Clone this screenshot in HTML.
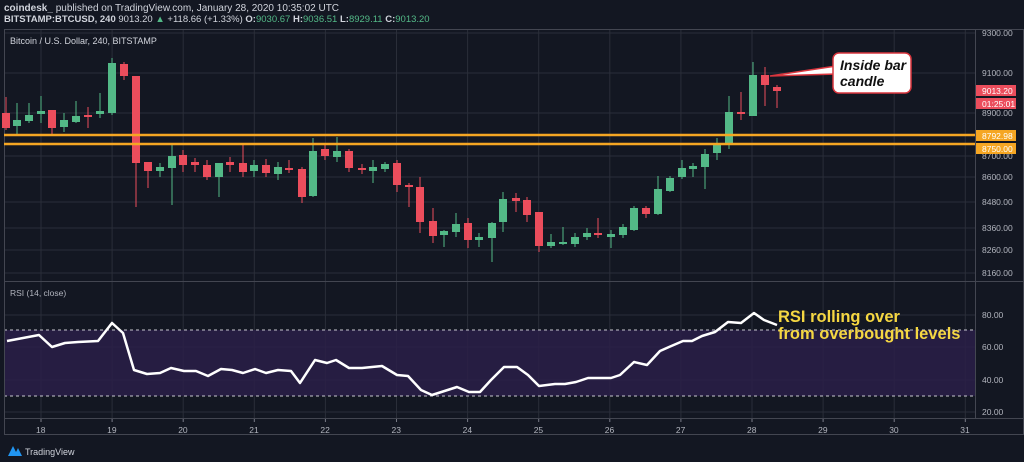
<!DOCTYPE html>
<html><head><meta charset="utf-8"><style>
html,body{margin:0;padding:0;background:#131722;width:1024px;height:462px;overflow:hidden}
svg{display:block;font-family:"Liberation Sans",sans-serif}
</style></head><body>
<svg id="s" width="1024" height="462" viewBox="0 0 1024 462" xmlns="http://www.w3.org/2000/svg">
<rect width="1024" height="462" fill="#131722"/>
<text x="4" y="11" font-size="10" fill="#d1d4dc"><tspan font-weight="bold">coindesk_</tspan> published on TradingView.com, January 28, 2020 10:35:02 UTC</text>
<text x="4" y="22" font-size="9.5" fill="#d1d4dc"><tspan font-weight="bold">BITSTAMP:BTCUSD, 240</tspan> 9013.20 <tspan fill="#53b987">▲</tspan> +118.66 (+1.33%) <tspan font-weight="bold">O:</tspan><tspan fill="#53b987">9030.67</tspan> <tspan font-weight="bold">H:</tspan><tspan fill="#53b987">9036.51</tspan> <tspan font-weight="bold">L:</tspan><tspan fill="#53b987">8929.11</tspan> <tspan font-weight="bold">C:</tspan><tspan fill="#53b987">9013.20</tspan></text>
<g id="grid" stroke="#2a2e39" stroke-width="1"></g>
<rect x="4" y="330" width="971" height="66" fill="#2a1f48" opacity="0.85"/>
<line x1="4" y1="330" x2="975" y2="330" stroke="#c8c8d0" stroke-dasharray="3,3"/>
<line x1="4" y1="396" x2="975" y2="396" stroke="#c8c8d0" stroke-dasharray="3,3"/>
<g stroke="#434651" fill="none">
<rect x="4.5" y="29.5" width="1019" height="405"/>
<line x1="975.5" y1="29" x2="975.5" y2="418"/>
<line x1="4" y1="281.5" x2="1024" y2="281.5"/>
<line x1="4" y1="418.5" x2="1024" y2="418.5"/>
</g>
<text x="10" y="44" font-size="9" fill="#d1d4dc">Bitcoin / U.S. Dollar, 240, BITSTAMP</text>
<text x="10" y="296" font-size="8.5" fill="#b2b5be">RSI (14, close)</text>
<g id="c"></g>
<line x1="4" y1="135" x2="975" y2="135" stroke="#f5a623" stroke-width="2.5"/>
<line x1="4" y1="144" x2="975" y2="144" stroke="#f5a623" stroke-width="2.5"/>
<polyline fill="none" stroke="#ffffff" stroke-width="2.5" stroke-linejoin="round" points="7,341 39,335 52,347 65,343 78,342 98,341 112,323 123,333 134,370 147,374 160,373 171,368 184,371 196,371 208,376 221,369 232,370 243,373 255,369 266,373 278,370 291,371 300,383 315,360 327,363 336,360 349,368 362,368 382,366 397,375 408,376 421,390 432,395 457,387 469,392 480,392 491,380 504,367 517,367 528,375 539,386 555,384 565,384 576,382 588,378 598,378 611,378 620,375 634,362 647,365 660,351 669,347 683,341 692,341 702,336 715,332 728,322 741,323 754,313 764,320 777,325"/>
<text font-size="16.5" font-weight="bold" fill="#f5d742"><tspan x="778" y="322">RSI rolling over</tspan><tspan x="778" y="339">from overbought levels</tspan></text>
<polygon points="770,76 836,66 836,74" fill="#ffffff" stroke="#d9363e" stroke-width="1.5"/>
<rect x="833" y="53" width="78" height="40" rx="6" fill="#ffffff" stroke="#d9363e" stroke-width="1.5"/>
<text font-size="14" font-style="italic" font-weight="bold" fill="#111"><tspan x="840" y="70">Inside bar</tspan><tspan x="840" y="86">candle</tspan></text>
<g font-size="8.5" fill="#b2b5be" id="ax"></g>
<rect x="976" y="85" width="40" height="11" fill="#eb4d5c"/>
<text x="982" y="94" font-size="8.5" fill="#fff">9013.20</text>
<rect x="976" y="98" width="40" height="11" fill="#eb4d5c"/>
<text x="982" y="107" font-size="8.5" fill="#fff">01:25:01</text>
<rect x="976" y="130" width="40" height="11" fill="#f5a623"/>
<text x="982" y="139" font-size="8.5" fill="#fff">8792.98</text>
<rect x="976" y="143" width="40" height="11" fill="#f5a623"/>
<text x="982" y="152" font-size="8.5" fill="#fff">8750.00</text>
<path d="M8,456 L13,446 L18,456 Z M14,456 L18,448 L22,456 Z" fill="#2196f3"/>
<text x="25" y="455" font-size="9" fill="#d1d4dc">TradingView</text>
</svg>
<script>
var NS="http://www.w3.org/2000/svg";
function el(p,t,a,txt){var e=document.createElementNS(NS,t);for(var k in a)e.setAttribute(k,a[k]);if(txt)e.textContent=txt;document.getElementById(p).appendChild(e);}
var days=[18,19,20,21,22,23,24,25,26,27,28,29,30,31];
days.forEach(function(d,i){var x=41+i*71.1;el("grid","line",{x1:x,y1:30,x2:x,y2:418});el("ax","text",{x:x-5,y:433},String(d));el("grid","line",{x1:x,y1:418,x2:x,y2:422,stroke:"#787b86"});});
[[33,"9300.00"],[73,"9100.00"],[113,"8900.00"],[156,"8700.00"],[177,"8600.00"],[202,"8480.00"],[228,"8360.00"],[250,"8260.00"],[273,"8160.00"]].forEach(function(p){el("grid","line",{x1:4,y1:p[0],x2:975,y2:p[0]});el("ax","text",{x:982,y:p[0]+3},p[1]);});
[[315,"80.00"],[347,"60.00"],[380,"40.00"],[412,"20.00"]].forEach(function(p){el("grid","line",{x1:4,y1:p[0],x2:975,y2:p[0]});el("ax","text",{x:982,y:p[0]+3},p[1]);});
var C=[[6,113,128,97,130],[17,126,120,103,135],[29,121,115,103,123],[41,114,111,96,123],[52,110,128,110,135],[64,127,120,113,132],[76,122,116,101,123],[88,116,116,107,128],[100,114,111,93,118],[112,113,63,58,115],[124,64,76,62,80],[136,76,163,76,207],[148,162,171,162,188],[160,171,167,163,177],[172,168,156,145,205],[183,155,165,150,172],[195,163,164,158,172],[207,165,177,160,180],[219,177,163,163,197],[230,163,164,157,172],[243,163,172,145,177],[254,171,165,160,177],[266,165,173,159,177],[278,174,167,162,180],[289,168,170,160,173],[302,169,197,167,203],[313,196,151,138,197],[325,149,156,145,160],[337,157,151,137,162],[349,151,168,149,172],[362,168,170,164,174],[373,171,167,160,183],[385,169,164,162,172],[397,163,185,160,192],[409,185,187,183,207],[420,187,222,177,233],[433,221,236,208,243],[444,235,231,230,247],[456,232,224,213,237],[468,223,240,218,248],[479,240,237,233,247],[492,238,223,222,262],[503,222,199,192,232],[516,199,200,193,212],[527,200,215,197,222],[539,212,246,212,252],[551,246,242,234,248],[563,244,242,227,245],[575,244,237,233,247],[587,237,233,228,240],[598,233,235,218,238],[611,237,234,230,248],[623,235,227,224,238],[634,230,208,206,231],[646,208,214,206,218],[658,214,189,176,215],[670,191,178,176,192],[682,177,168,160,179],[693,168,167,163,177],[705,167,154,149,189],[717,153,143,138,160],[729,143,112,96,149],[741,112,114,92,120],[753,116,75,62,116],[765,75,85,67,106],[777,87,91,85,108]];
C.forEach(function(c){var up=c[2]<c[1],col=up?"#53b987":"#eb4d5c";var t=Math.min(c[1],c[2]),b=Math.max(c[1],c[2]);if(b-t<2){t-=1;b+=1;}
el("c","line",{x1:c[0],y1:c[3],x2:c[0],y2:c[4],stroke:col,"stroke-width":1});
el("c","rect",{x:c[0]-4,y:t,width:8,height:b-t,fill:col});});
</script>
</body></html>
